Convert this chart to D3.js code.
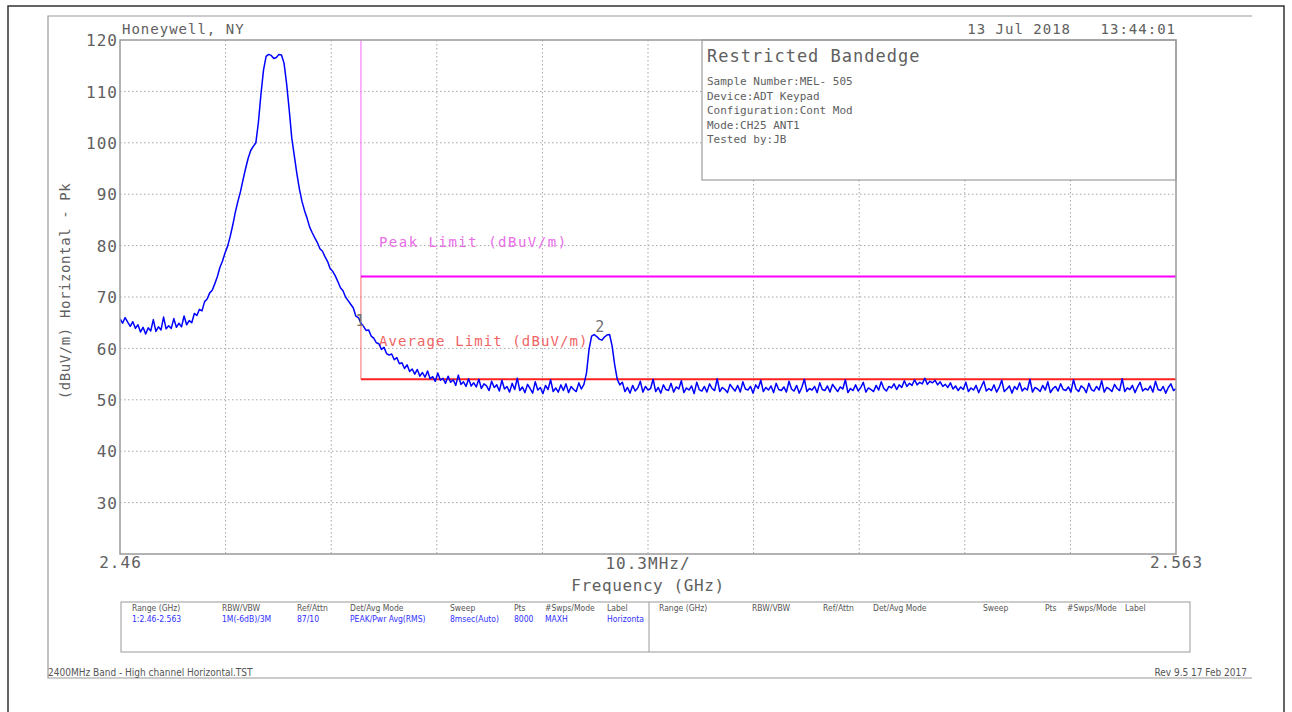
<!DOCTYPE html>
<html lang="en">
<head>
<meta charset="UTF-8">
<title>Restricted Bandedge</title>
<script src="https://d3js.org/d3.v7.min.js"></script>
<style>
  body { margin: 0; background: #fff; }
  svg { display: block; }
  svg text { font-family: "DejaVu Sans Mono", monospace; fill: #606060; }
  .grid line { stroke: #a6a6a6; stroke-width: 1; stroke-dasharray: 1.5,2.5; }
  .tick-label { font-size: 16px; letter-spacing: 1px; }
  .tbl { font-family: "DejaVu Sans Condensed", "DejaVu Sans", sans-serif !important; font-size: 8.5px; }
</style>
</head>
<body>
<svg id="chart" width="1292" height="712"></svg>
<script>
// --- Data ---
const freqStart = 2.46;      // GHz
const freqStop = 2.563;      // GHz
const freqStep = 0.00025;    // GHz between trace samples
const traceLevels = [
  65.8, 64.9, 66.0, 65.1, 64.3, 65.2, 63.9, 64.6, 63.2, 64.1,
  62.8, 64.0, 63.4, 65.6, 63.3, 64.2, 63.6, 66.1, 63.8, 64.4,
  63.9, 65.8, 64.1, 64.9, 64.2, 66.3, 64.6, 65.4, 65.0, 66.8,
  66.4, 67.6, 67.3, 69.1, 69.6, 70.8, 71.3, 72.6, 74.0, 75.8,
  77.0, 78.6, 79.9, 81.8, 84.0, 86.5, 88.6, 90.5, 92.8, 95.0,
  97.0, 98.5, 99.3, 100.0, 104.0, 109.5, 114.2, 116.8, 117.2, 117.0,
  116.4, 116.6, 117.2, 117.1, 115.5, 111.5, 106.5, 101.0, 97.5, 94.0,
  91.0, 88.6, 86.8, 85.3, 83.6, 82.5, 81.5, 80.6, 79.4, 78.9,
  77.8, 76.9, 75.5, 75.0, 74.1, 73.0, 71.8, 71.2, 70.0, 69.3,
  68.6, 67.9, 66.3, 66.0, 64.9, 64.3, 63.5, 63.6, 62.4, 62.0,
  61.1, 60.9, 59.8, 60.2, 59.0, 58.7, 58.9, 57.8, 58.2, 57.0,
  57.2, 56.1, 56.8, 55.5, 56.0, 55.0, 55.9, 54.6, 55.3, 54.4,
  55.6, 54.1, 54.5, 53.6, 55.2, 53.8, 54.2, 53.2, 54.6, 53.4,
  53.9, 52.8, 54.8, 53.0, 53.5, 52.6, 54.1, 52.7, 53.3, 52.5,
  54.0, 52.2, 53.1, 52.7, 51.8, 53.6, 52.4, 52.9, 51.7, 53.8,
  52.1, 52.6, 51.5, 53.2, 52.0, 54.2, 51.8, 52.5, 51.4, 53.0,
  52.2, 51.3, 53.5, 51.9, 52.4, 51.2, 52.8, 52.0, 53.9, 51.6,
  52.3, 51.5, 52.9, 51.8, 53.1, 51.4, 52.6, 52.0, 51.6, 53.3,
  52.1, 53.0, 55.2, 59.8, 62.4, 62.7, 62.3, 61.8, 61.6, 62.2,
  62.6, 62.7, 60.5, 56.8, 54.0, 52.9, 53.4, 51.6, 52.4, 51.3,
  52.8, 51.7, 52.3, 53.6, 51.5, 52.6, 51.9, 52.2, 54.0, 51.6,
  52.4, 51.3, 52.9, 52.0, 51.8, 53.2, 51.5, 52.5, 52.1, 53.7,
  51.4, 52.3, 51.9, 52.7, 51.2, 53.4, 52.0, 51.7, 52.6, 51.5,
  53.1, 52.2, 51.8, 54.1, 51.6, 52.4, 52.0, 51.4, 53.0, 52.3,
  51.7, 52.8, 51.5, 53.5, 52.1, 51.9, 52.6, 51.3, 52.9, 52.2,
  53.8, 51.6, 52.4, 51.9, 52.7, 51.4, 53.2, 52.0, 51.8, 52.5,
  51.5, 53.6, 52.1, 51.7, 52.8, 51.3, 52.4, 54.0, 51.6, 52.2,
  51.9, 52.6, 51.4, 53.3, 52.0, 51.8, 52.7, 51.5, 53.0, 52.3,
  51.6, 52.5, 52.1, 53.9, 51.4, 52.2, 51.8, 52.9, 51.7, 52.4,
  53.4, 51.5, 52.3, 52.0, 51.6, 52.8, 51.9, 53.5, 52.2, 51.7,
  52.6, 52.3, 53.1, 52.0, 52.9, 52.4, 53.7, 52.6, 53.2, 52.8,
  53.9, 52.9, 53.4, 53.1, 54.2, 53.0, 53.6, 53.3, 53.8, 52.9,
  53.5, 52.6, 53.0, 52.4, 53.3, 52.1, 52.7, 51.8, 52.5, 52.0,
  53.4, 51.6, 52.3, 51.9, 52.8, 51.4, 52.5, 53.6, 51.7, 52.2,
  51.8, 52.9, 51.5, 52.4, 53.8, 51.6, 52.1, 52.7, 51.3, 52.6,
  52.0, 53.3, 51.7, 52.3, 51.9, 54.0, 51.5, 52.4, 52.1, 51.6,
  52.8, 51.9, 53.5, 51.4, 52.2, 52.6, 51.7, 53.1, 52.0, 51.8,
  52.5, 51.5, 53.9, 52.1, 51.6, 52.7, 52.3, 51.4, 53.2, 52.0,
  51.7, 52.6, 51.9, 53.7, 51.5, 52.4, 52.1, 51.6, 53.0, 52.2,
  51.8, 54.1, 51.6, 52.3, 52.0, 52.8, 51.4, 52.5, 53.4, 51.7,
  52.2, 51.9, 52.7, 51.5, 53.6, 52.0, 51.8, 52.6, 51.3, 52.4,
  53.1, 51.8, 52.2
];

const levelMin = 20, levelMax = 120;             // dBuV/m
const levelTicks = [30, 40, 50, 60, 70, 80, 90, 100, 110, 120];
const divisions = 10;                            // 10.3 MHz per division
const bandEdge = 2.4835;                         // GHz
const peakLimit = 74;                            // dBuV/m
const avgLimit = 54;                             // dBuV/m
const markers = [
  { label: "1", freq: 2.4835, level: 63.8 },
  { label: "2", freq: 2.5069, level: 62.6 }
];

const infoTitle = "Restricted Bandedge";
const infoLines = [
  "Sample Number:MEL- 505",
  "Device:ADT Keypad",
  "Configuration:Cont Mod",
  "Mode:CH25 ANT1",
  "Tested by:JB"
];
const tableHeaders = ["Range (GHz)", "RBW/VBW", "Ref/Attn", "Det/Avg Mode", "Sweep", "Pts", "#Swps/Mode", "Label"];
const tableValues = ["1:2.46-2.563", "1M(-6dB)/3M", "87/10", "PEAK/Pwr Avg(RMS)", "8msec(Auto)", "8000", "MAXH", "Horizonta"];

// --- Layout ---
const svg = d3.select("#chart");
const plot = { left: 120, right: 1176, top: 40, bottom: 554 };

const x = d3.scaleLinear().domain([freqStart, freqStop]).range([plot.left, plot.right]);
const y = d3.scaleLinear().domain([levelMin, levelMax]).range([plot.bottom, plot.top]);

svg.append("rect").attr("width", 1292).attr("height", 712).attr("fill", "#fff");

// outer page frame (dark) and inner sheet frame (gray)
svg.append("path")
  .attr("d", "M8,712 V6 H1284 V712")
  .attr("fill", "none").attr("stroke", "#333").attr("stroke-width", 1.5);
svg.append("path")
  .attr("d", "M1252,16 H48 V678 H1252")
  .attr("fill", "none").attr("stroke", "#9a9a9a").attr("stroke-width", 1.2);

// grid lines
const divFreqs = d3.range(1, divisions).map(k => freqStart + k * (freqStop - freqStart) / divisions);
const grid = svg.append("g").attr("class", "grid");
grid.selectAll(".vg").data(divFreqs).enter().append("line")
  .attr("x1", d => x(d)).attr("x2", d => x(d))
  .attr("y1", plot.top).attr("y2", plot.bottom);
grid.selectAll(".hg").data(levelTicks.filter(d => d < levelMax)).enter().append("line")
  .attr("x1", plot.left).attr("x2", plot.right)
  .attr("y1", d => y(d)).attr("y2", d => y(d));

// info box sits on top of the grid
svg.append("rect")
  .attr("x", 702).attr("y", plot.top)
  .attr("width", plot.right - 702).attr("height", 140)
  .attr("fill", "#fff").attr("stroke", "#8a8a8a").attr("stroke-width", 1);
svg.append("text").attr("x", 707).attr("y", 62)
  .style("font-size", "17px").style("letter-spacing", "1px")
  .text(infoTitle);
svg.selectAll(".info").data(infoLines).enter().append("text")
  .attr("x", 707).attr("y", (d, i) => 85 + i * 14.5)
  .style("font-size", "11px")
  .text(d => d);

// limit lines
const edgeX = x(bandEdge);
svg.append("line").attr("x1", edgeX).attr("x2", edgeX)
  .attr("y1", y(levelMax)).attr("y2", y(peakLimit))
  .attr("stroke", "#ff66ff").attr("stroke-width", 1);
svg.append("line").attr("x1", edgeX).attr("x2", edgeX)
  .attr("y1", y(peakLimit)).attr("y2", y(avgLimit))
  .attr("stroke", "#ff6a6a").attr("stroke-width", 1);
svg.append("line").attr("x1", edgeX).attr("x2", x(freqStop))
  .attr("y1", y(peakLimit)).attr("y2", y(peakLimit))
  .attr("stroke", "#ff00ff").attr("stroke-width", 2);
svg.append("line").attr("x1", edgeX).attr("x2", x(freqStop))
  .attr("y1", y(avgLimit)).attr("y2", y(avgLimit))
  .attr("stroke", "#ff2020").attr("stroke-width", 2);

svg.append("text").attr("x", edgeX + 18).attr("y", y(peakLimit) - 29)
  .style("font-size", "14px").style("letter-spacing", "1.5px").style("fill", "#e86ee8")
  .text("Peak Limit (dBuV/m)");
svg.append("text").attr("x", edgeX + 18).attr("y", y(avgLimit) - 33)
  .style("font-size", "14px").style("letter-spacing", "1.1px").style("fill", "#f06464")
  .text("Average Limit (dBuV/m)");

// measured trace
svg.append("clipPath").attr("id", "plot-clip")
  .append("rect").attr("x", plot.left).attr("y", plot.top)
  .attr("width", plot.right - plot.left).attr("height", plot.bottom - plot.top);

const traceLine = d3.line()
  .x((d, i) => x(freqStart + i * freqStep))
  .y(d => y(d));

svg.append("path")
  .datum(traceLevels)
  .attr("clip-path", "url(#plot-clip)")
  .attr("d", traceLine)
  .attr("fill", "none")
  .attr("stroke", "#0000ff")
  .attr("stroke-width", 1.5)
  .attr("stroke-linejoin", "round");

// marker numbers
svg.selectAll(".marker").data(markers).enter().append("text")
  .attr("x", d => x(d.freq) - 1)
  .attr("y", d => y(d.level) - 3)
  .attr("text-anchor", "middle")
  .style("font-size", "15px").style("fill", "#707070")
  .text(d => d.label);

// plot frame
svg.append("rect")
  .attr("x", plot.left).attr("y", plot.top)
  .attr("width", plot.right - plot.left).attr("height", plot.bottom - plot.top)
  .attr("fill", "none").attr("stroke", "#9a9a9a").attr("stroke-width", 1.5);

// y axis labels
const yAxis = d3.axisLeft(y).tickValues(levelTicks).tickSize(0).tickPadding(2);
const yg = svg.append("g").attr("transform", `translate(${plot.left},0)`).call(yAxis);
yg.select(".domain").remove();
yg.selectAll("text").attr("class", "tick-label").attr("dy", "0.36em");

// x axis labels
const xAxis = d3.axisBottom(x).tickValues([freqStart, freqStop]).tickSize(0).tickPadding(3)
  .tickFormat(d => d3.format("")(d));
const xg = svg.append("g").attr("transform", `translate(0,${plot.bottom})`).call(xAxis);
xg.select(".domain").remove();
xg.selectAll("text").attr("class", "tick-label");

svg.append("text").attr("class", "tick-label")
  .attr("x", (plot.left + plot.right) / 2).attr("y", 569).attr("text-anchor", "middle")
  .text("10.3MHz/");
svg.append("text")
  .attr("x", (plot.left + plot.right) / 2).attr("y", 591).attr("text-anchor", "middle")
  .style("font-size", "16px").style("letter-spacing", "0.6px")
  .text("Frequency (GHz)");

svg.append("text")
  .attr("transform", "translate(70,291) rotate(-90)")
  .attr("text-anchor", "middle")
  .style("font-size", "14px").style("letter-spacing", "0.6px")
  .text("(dBuV/m) Horizontal - Pk");

// header
svg.append("text").attr("x", 122).attr("y", 34)
  .style("font-size", "14px").style("letter-spacing", "1px")
  .text("Honeywell, NY");
svg.append("text").attr("x", 1071).attr("y", 34).attr("text-anchor", "end")
  .style("font-size", "14px").style("letter-spacing", "1px")
  .text("13 Jul 2018");
svg.append("text").attr("x", 1176).attr("y", 34).attr("text-anchor", "end")
  .style("font-size", "14px").style("letter-spacing", "1px")
  .text("13:44:01");

// settings table
const tbl = { left: 121, right: 1190, top: 602, bottom: 652, split: 649 };
const colLeft = [132, 222, 297, 350, 450, 514, 545, 607];
const colRight = [659, 752, 823, 873, 983, 1045, 1067, 1125];

svg.append("rect")
  .attr("x", tbl.left).attr("y", tbl.top)
  .attr("width", tbl.right - tbl.left).attr("height", tbl.bottom - tbl.top)
  .attr("fill", "none").attr("stroke", "#9a9a9a").attr("stroke-width", 1);
svg.append("line").attr("x1", tbl.split).attr("x2", tbl.split)
  .attr("y1", tbl.top).attr("y2", tbl.bottom)
  .attr("stroke", "#9a9a9a").attr("stroke-width", 1);

svg.selectAll(".th1").data(tableHeaders).enter().append("text")
  .attr("class", "tbl").attr("x", (d, i) => colLeft[i]).attr("y", 611)
  .style("fill", "#555").text(d => d);
svg.selectAll(".th2").data(tableHeaders).enter().append("text")
  .attr("class", "tbl").attr("x", (d, i) => colRight[i]).attr("y", 611)
  .style("fill", "#555").text(d => d);
svg.selectAll(".tv").data(tableValues).enter().append("text")
  .attr("class", "tbl").attr("x", (d, i) => colLeft[i]).attr("y", 622)
  .style("fill", "#3030ff").text(d => d);

// footer
svg.append("text").attr("x", 48).attr("y", 676)
  .style("font-family", "'DejaVu Sans Condensed', 'DejaVu Sans', sans-serif")
  .style("font-size", "10px").style("fill", "#555")
  .text("2400MHz Band - High channel Horizontal.TST");
svg.append("text").attr("x", 1247).attr("y", 676).attr("text-anchor", "end")
  .style("font-family", "'DejaVu Sans Condensed', 'DejaVu Sans', sans-serif")
  .style("font-size", "10px").style("fill", "#555")
  .text("Rev 9.5 17 Feb 2017");
</script>
</body>
</html>
